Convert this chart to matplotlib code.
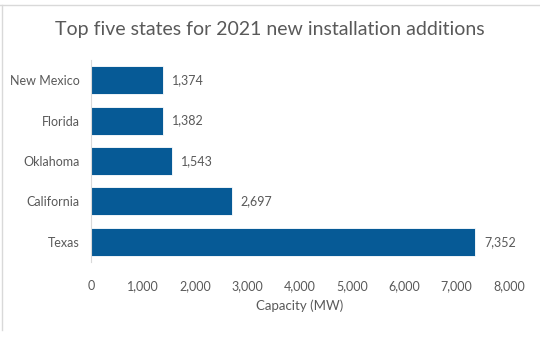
import matplotlib
matplotlib.use("Agg")
import matplotlib.pyplot as plt
from matplotlib.lines import Line2D

states = ["Texas", "California", "Oklahoma", "Florida", "New Mexico"]
capacity_mw = [7352, 2697, 1543, 1382, 1374]
x_ticks = [0, 1000, 2000, 3000, 4000, 5000, 6000, 7000, 8000]

plt.rcParams["font.family"] = ["Lato", "DejaVu Sans"]
text_color = "#595959"
bar_color = "#065A96"

W, H = 540, 337
fig = plt.figure(figsize=(W / 100, H / 100), dpi=100)
ax = fig.add_axes([91 / W, 1 - 262 / H, (509 - 91) / W, (262 - 60) / H])

y = list(range(len(states)))
ax.barh(y, capacity_mw, height=0.69, color=bar_color, edgecolor="white", linewidth=0.6)
for yi, v in zip(y, capacity_mw):
    ax.text(v + 170, yi, f"{v:,}", va="center", ha="left", fontsize=9, color=text_color)

ax.set_xlim(0, 8000)
ax.set_ylim(-0.5, len(states) - 0.5)
ax.set_yticks(y)
ax.set_yticklabels(states, fontsize=9, color=text_color)
ax.set_xticks(x_ticks)
ax.set_xticklabels([f"{t:,}" for t in x_ticks], fontsize=9, color=text_color)
ax.tick_params(axis="both", length=0, pad=8)
ax.tick_params(axis="x", pad=13)
for s in ["top", "right", "bottom"]:
    ax.spines[s].set_visible(False)
ax.spines["left"].set_color("#D9D9D9")
ax.set_xlabel("Capacity (MW)", fontsize=9.5, color=text_color, labelpad=5)

fig.text(0.5, 1 - 30 / H, "Top five states for 2021 new installation additions",
         ha="center", va="center", fontsize=14, color=text_color)

# chart frame edges
fig.add_artist(Line2D([0, 1], [1 - 5 / H, 1 - 5 / H], color="#D9D9D9", lw=1, transform=fig.transFigure))
fig.add_artist(Line2D([1.5 / W, 1.5 / W], [1 - 330 / H, 1 - 5 / H], color="#D9D9D9", lw=1, transform=fig.transFigure))

fig.savefig("out.png", dpi=100)
